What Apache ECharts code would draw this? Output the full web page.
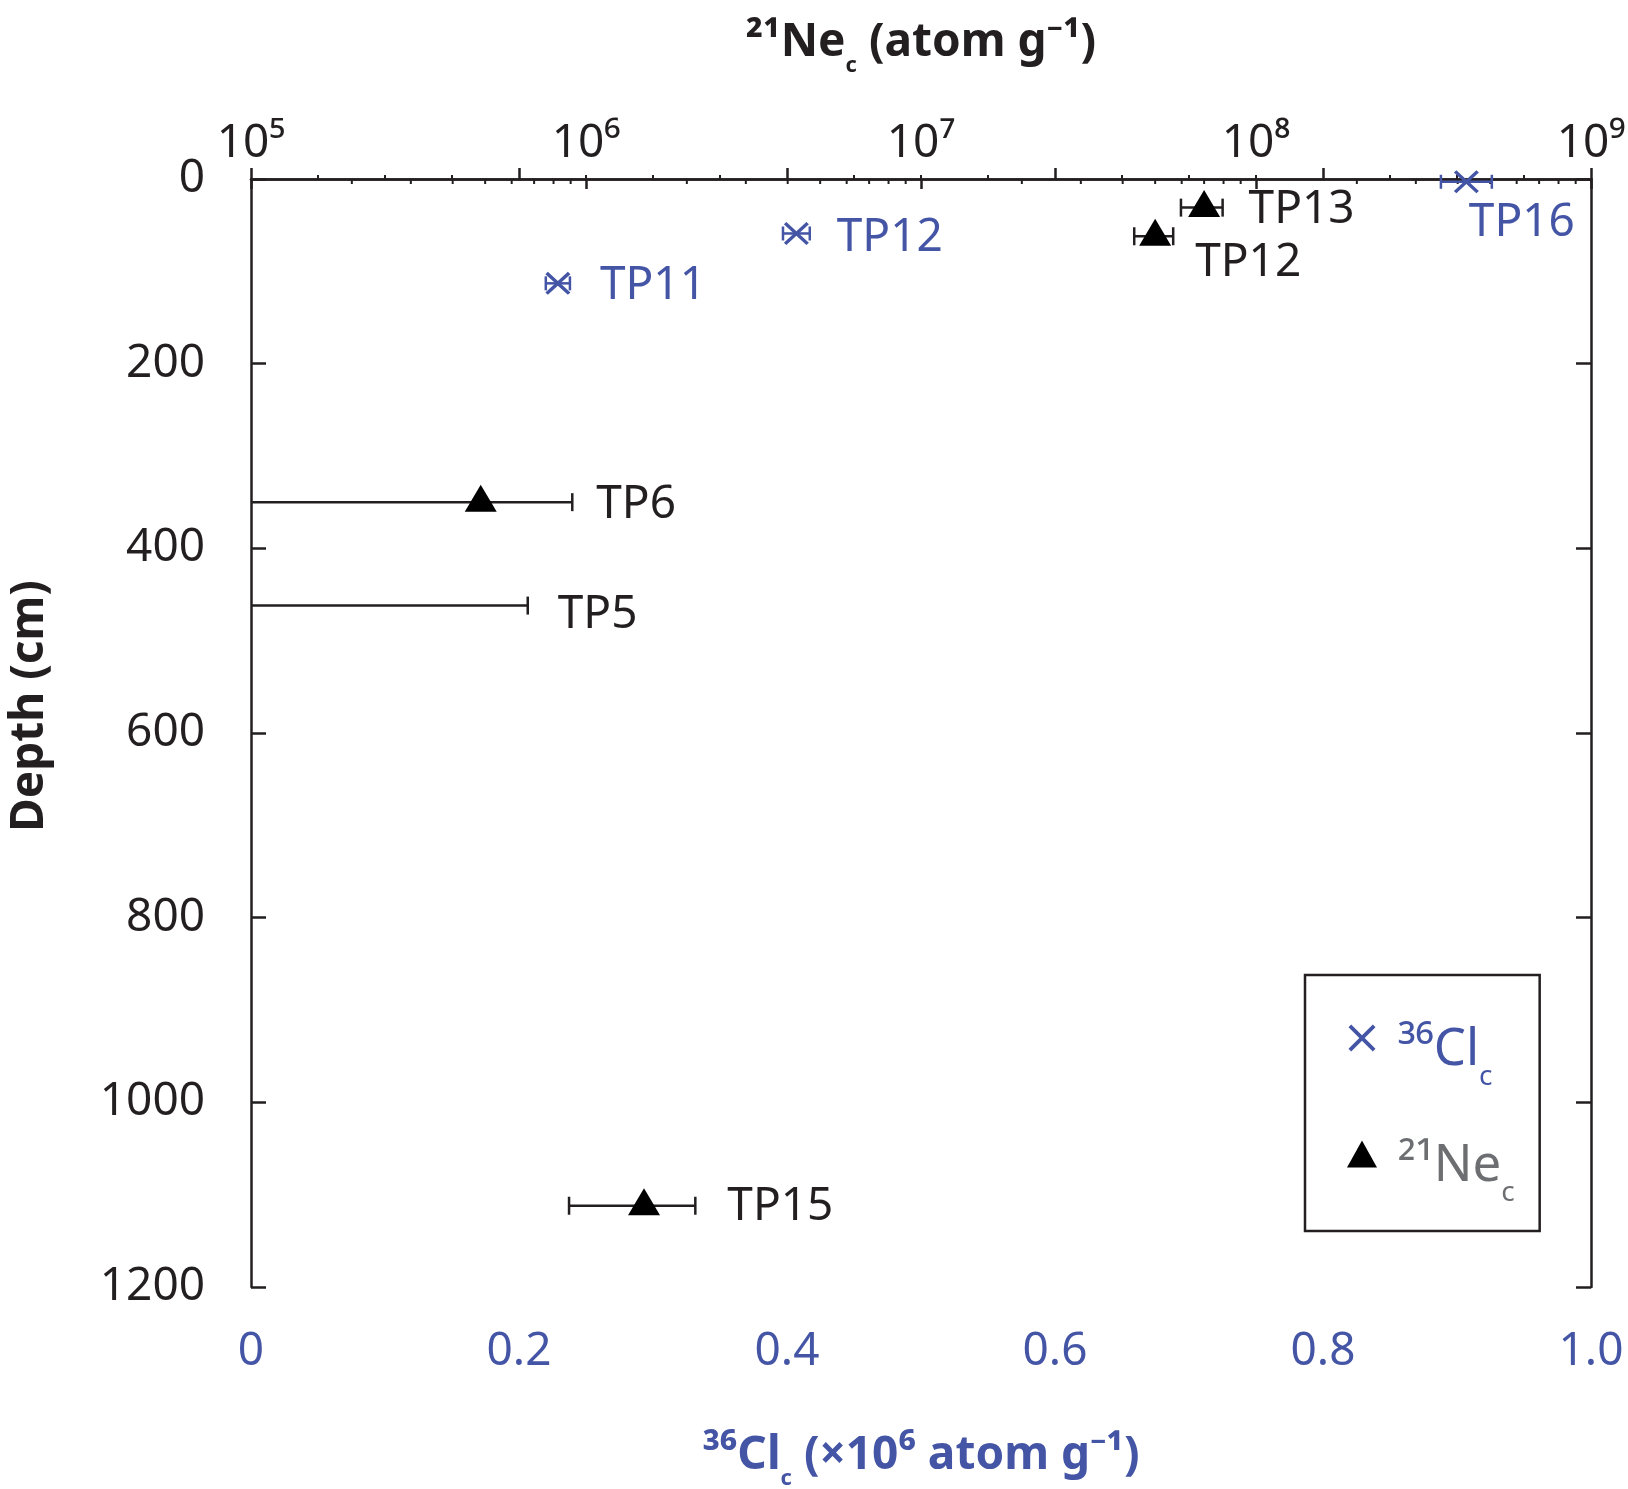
<!DOCTYPE html>
<html>
<head>
<meta charset="utf-8">
<script src="https://cdn.jsdelivr.net/npm/echarts@6/dist/echarts.min.js"></script>
<style>
html, body { margin: 0; padding: 0; background: #fff; }
#main { width: 1628px; height: 1489px; }
</style>
</head>
<body>
<div id="main"></div>
<script>
// 36Cl_c samples, bottom axis (x10^6 atom g-1)
var clSamples = ['TP16', 'TP12', 'TP11'];
var clDepth = [3, 59, 113];
var clValue = [0.907, 0.407, 0.229];
var clError = [0.019, 0.010, 0.009];

// 21Ne_c samples, top log axis (atom g-1); null = below the axis minimum
var neSamples = ['TP13', 'TP12', 'TP6', 'TP5', 'TP15'];
var neDepth = [31, 62, 350, 462, 1112];
var neValue = [7.0e7, 5.0e7, 4.85e5, null, 1.49e6];
var neLow = [5.97e7, 4.33e7, null, null, 8.9e5];
var neHigh = [7.95e7, 5.66e7, 9.1e5, 6.7e5, 2.12e6];

// axes
var depthRange = [0, 1200, 200];
var clRange = [0, 1, 0.2];
var neRange = [1e5, 1e9];
var neDecades = [1e5, 1e6, 1e7, 1e8];
var logSteps = [2, 3, 4, 5, 6, 7, 8, 9];
var supDigits = ['⁰', '¹', '²', '³', '⁴', '⁵', '⁶', '⁷', '⁸', '⁹'];

var BLUE = '#4455a6';
var INK = '#231f20';
var GRAY = '#6d6e71';
var FONT = '"Noto Sans", "Open Sans", sans-serif';
// filled "x" so it keeps its stroke weight in the legend too
var CROSS = 'path://M0,10L10,0L50,40L90,0L100,10L60,50L100,90L90,100L50,60L10,100L0,90L40,50Z';

// where each sample name sits, relative to the upper end of its error bar
var labelNudge = {
  'cl-TP16': [-23, 41], 'cl-TP12': [27, 4], 'cl-TP11': [30, 3],
  'ne-TP13': [26, 2], 'ne-TP12': [22, 27], 'ne-TP6': [24, 3],
  'ne-TP5': [30, 9], 'ne-TP15': [32, 1]
};

var chart = echarts.init(document.getElementById('main'));

function errorBars(color, prefix, names, capHalf) {
  return function (params, api) {
    var y = api.value(1);
    var lo = api.coord([api.value(0), y]);
    var hi = api.coord([api.value(2), y]);
    var name = names[params.dataIndex];
    var nudge = labelNudge[prefix + name];
    var st = { stroke: color, lineWidth: 2.5 };
    var kids = [
      { type: 'line', shape: { x1: lo[0], y1: lo[1], x2: hi[0], y2: hi[1] }, style: st },
      { type: 'line', shape: { x1: hi[0], y1: hi[1] - capHalf, x2: hi[0], y2: hi[1] + capHalf }, style: st }
    ];
    if (api.value(3)) {
      kids.push({ type: 'line', shape: { x1: lo[0], y1: lo[1] - capHalf, x2: lo[0], y2: lo[1] + capHalf }, style: st });
    }
    kids.push({
      type: 'text', x: hi[0] + nudge[0], y: hi[1] + nudge[1],
      style: { text: name, fill: color, fontSize: 46, fontFamily: FONT, align: 'left', verticalAlign: 'middle' }
    });
    return { type: 'group', children: kids };
  };
}

var clBars = clSamples.map(function (s, i) {
  return [clValue[i] - clError[i], clDepth[i], clValue[i] + clError[i], 1];
});
var neBars = neSamples.map(function (s, i) {
  return [neLow[i] == null ? neRange[0] : neLow[i], neDepth[i], neHigh[i], neLow[i] == null ? 0 : 1];
});
var clPoints = clSamples.map(function (s, i) { return [clValue[i], clDepth[i]]; });
var nePoints = [];
neSamples.forEach(function (s, i) {
  if (neValue[i] != null) nePoints.push([neValue[i], neDepth[i]]);
});
var neMinor = [];
neDecades.forEach(function (d) {
  logSteps.forEach(function (k) { neMinor.push([d * k, 0]); });
});

var axisLine = { show: true, lineStyle: { color: INK, width: 2.5 } };

// bold titles: main text plus a dropped subscript "c"
var titleRich = function (color) {
  return {
    m: { fontSize: 46, fontWeight: 'bold', color: color, fontFamily: FONT, lineHeight: 64, verticalAlign: 'top', padding: [0, 0, 0, 0] },
    b: { fontSize: 22, fontWeight: 'bold', color: color, fontFamily: FONT, lineHeight: 22, verticalAlign: 'top', padding: [35, 0, 0, 0] }
  };
};

var legendRich = {};
[['c', BLUE], ['n', GRAY]].forEach(function (p) {
  legendRich[p[0] + 'm'] = { fontSize: 51, color: p[1], fontFamily: FONT, lineHeight: 64, verticalAlign: 'top', padding: [19, 0, 0, 16] };
  legendRich[p[0] + 'b'] = { fontSize: 28, color: p[1], fontFamily: FONT, lineHeight: 28, verticalAlign: 'top', padding: [57, 0, 0, 0] };
});

chart.setOption({
  animation: false,
  backgroundColor: '#fff',
  textStyle: { fontFamily: FONT },
  grid: { left: 251, right: 37, top: 179, bottom: 202, containLabel: false, outerBoundsMode: 'none' },
  legend: {
    left: 1305, top: 975,
    orient: 'vertical',
    itemWidth: 30, itemHeight: 27, itemGap: 31,
    padding: [31, 25, 24, 42],
    borderColor: INK, borderWidth: 2.5,
    data: [
      { name: 'cl', icon: CROSS },
      { name: 'ne', icon: 'triangle' }
    ],
    formatter: function (name) {
      return name === 'cl' ? '{cm|³⁶Cl}{cb|c}' : '{nm|²¹Ne}{nb|c}';
    },
    textStyle: { rich: legendRich }
  },
  xAxis: [
    {
      type: 'value', position: 'bottom',
      min: clRange[0], max: clRange[1], interval: clRange[2],
      axisLine: axisLine,
      axisTick: { inside: true, length: 11, lineStyle: { color: INK, width: 2.5 } },
      minorTick: { show: true, splitNumber: 4, length: 4, lineStyle: { color: INK, width: 2 } },
      splitLine: { show: false },
      axisLabel: {
        margin: 42, color: BLUE, fontSize: 46, fontFamily: FONT,
        formatter: function (v) { return v === 0 ? '0' : v.toFixed(1); }
      },
      name: '{m|³⁶Cl}{b|c}{m| (×10⁶ atom g⁻¹)}',
      nameLocation: 'middle', nameGap: 146,
      nameTextStyle: { rich: titleRich(BLUE) }
    },
    {
      type: 'log', logBase: 10, position: 'top',
      min: neRange[0], max: neRange[1],
      axisLine: axisLine,
      axisTick: { inside: true, length: 10, lineStyle: { color: INK, width: 2.5 } },
      splitLine: { show: false },
      axisLabel: {
        margin: 12, showMaxLabel: true, showMinLabel: true,
        color: INK, fontSize: 46, fontFamily: FONT,
        formatter: function (v) { return '10' + supDigits[Math.round(Math.log10(v))]; }
      },
      name: '{m|²¹Ne}{b|c}{m| (atom g⁻¹)}',
      nameLocation: 'middle', nameGap: 95,
      nameTextStyle: { rich: titleRich(INK) }
    }
  ],
  yAxis: [
    {
      type: 'value', position: 'left', inverse: true,
      min: depthRange[0], max: depthRange[1], interval: depthRange[2],
      axisLine: axisLine,
      axisTick: { inside: true, length: 15, lineStyle: { color: INK, width: 2.5 } },
      splitLine: { show: false },
      axisLabel: {
        margin: 46, color: INK, fontSize: 46, fontFamily: FONT, padding: [12, 0, 0, 0],
        formatter: function (v) { return String(v); }
      },
      name: 'Depth (cm)', nameLocation: 'middle', nameGap: 198,
      nameTextStyle: { fontSize: 46, fontWeight: 'bold', color: INK, fontFamily: FONT, padding: [0, 0, 0, 54] }
    },
    {
      type: 'value', position: 'right', inverse: true,
      min: depthRange[0], max: depthRange[1], interval: depthRange[2],
      axisLine: axisLine,
      axisTick: { inside: true, length: 15, lineStyle: { color: INK, width: 2.5 } },
      splitLine: { show: false },
      axisLabel: { show: false }
    }
  ],
  series: [
    {
      type: 'custom', name: 'neMinor', xAxisIndex: 1, yAxisIndex: 0, silent: true,
      data: neMinor,
      renderItem: function (params, api) {
        var p = api.coord([api.value(0), api.value(1)]);
        return { type: 'line', shape: { x1: p[0], y1: p[1], x2: p[0], y2: p[1] + 5 }, style: { stroke: INK, lineWidth: 2 } };
      }
    },
    {
      type: 'custom', name: 'clErr', xAxisIndex: 0, yAxisIndex: 0, silent: true,
      encode: { x: [0, 2], y: 1 },
      data: clBars,
      renderItem: errorBars(BLUE, 'cl-', clSamples, 7)
    },
    {
      type: 'custom', name: 'neErr', xAxisIndex: 1, yAxisIndex: 0, silent: true,
      encode: { x: [0, 2], y: 1 },
      data: neBars,
      renderItem: errorBars(INK, 'ne-', neSamples, 9)
    },
    {
      type: 'scatter', name: 'cl', xAxisIndex: 0, yAxisIndex: 0,
      symbol: CROSS, symbolSize: [25, 23],
      itemStyle: { color: BLUE, opacity: 1 },
      data: clPoints, z: 5
    },
    {
      type: 'scatter', name: 'ne', xAxisIndex: 1, yAxisIndex: 0,
      symbol: 'triangle', symbolSize: [32, 27], symbolOffset: [0, -4],
      itemStyle: { color: '#000', opacity: 1 },
      data: nePoints, z: 5
    }
  ]
});
</script>
</body>
</html>
